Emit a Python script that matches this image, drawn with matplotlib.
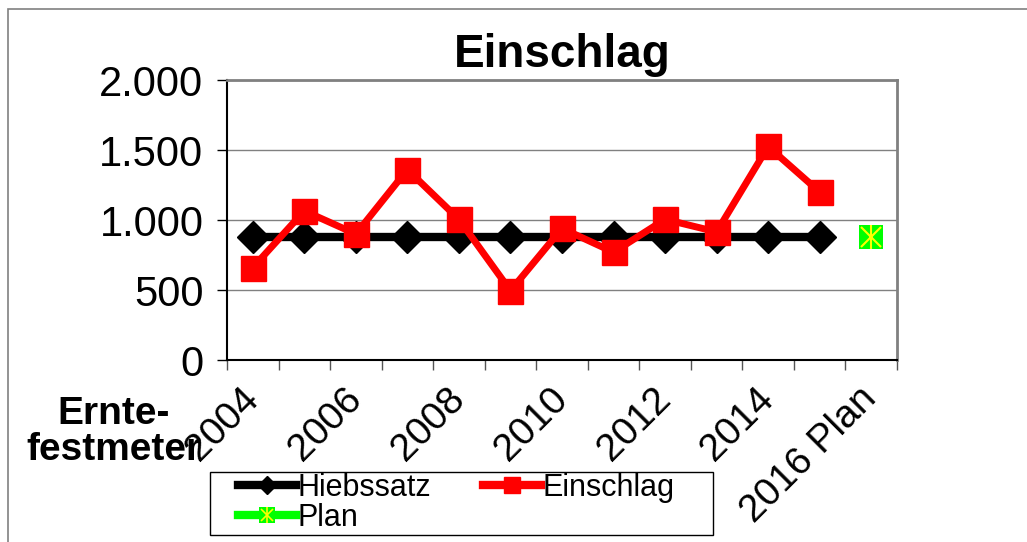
import matplotlib.pyplot as plt
from matplotlib.patches import Rectangle
import numpy as np

plt.rcParams['font.family'] = ['Liberation Sans', 'DejaVu Sans']

# Data
categories = ['2004', '2005', '2006', '2007', '2008', '2009', '2010',
              '2011', '2012', '2013', '2014', '2015', '2016 Plan']
hiebssatz = [880, 880, 880, 880, 880, 880, 880, 880, 880, 880, 880, 880]
einschlag = [660, 1065, 900, 1360, 1005, 495, 940, 770, 1005, 915, 1525, 1200]
plan = [880]
y_ticks = [0, 500, 1000, 1500, 2000]
y_labels = ['0', '500', '1.000', '1.500', '2.000']

x = np.arange(len(categories))

fig = plt.figure(figsize=(10.27, 5.42), dpi=100)
ax = fig.add_axes([227 / 1027, 1 - 360 / 542, 670 / 1027, 280 / 542])

# outer chart border (top and left visible)
fig.patches.append(Rectangle((8 / 1027, -0.1), 1.2, 1 - 9 / 542 + 0.1,
                             transform=fig.transFigure, fill=False,
                             edgecolor='#808080', linewidth=1.2))
# legend frame
fig.patches.append(Rectangle((210 / 1027, 1 - 535 / 542), 503 / 1027, 63 / 542,
                             transform=fig.transFigure, fill=True,
                             facecolor='white', edgecolor='black',
                             linewidth=1))

ax.grid(axis='y', color='#808080', linewidth=1)
ax.set_axisbelow(True)

ax.plot(x[:len(hiebssatz)], hiebssatz, color='black', linewidth=6,
        marker='D', markersize=16)
ax.plot(x[:len(einschlag)], einschlag, color='#FF0000', linewidth=5,
        marker='s', markersize=18)
px = x[len(categories) - len(plan):]
ax.plot(px, plan, color='#00FF00', linestyle='none', marker='s',
        markersize=17, markeredgewidth=0)
ax.plot(px, plan, color='#FFFF00', linestyle='none', marker='x',
        markersize=15, markeredgewidth=1.5)
ax.plot(px, plan, color='#FFFF00', linestyle='none', marker='|',
        markersize=17, markeredgewidth=1.5)

# legend handles (smaller markers than in the plot)
h1, = ax.plot([], [], color='black', linewidth=6, marker='D', markersize=9)
h2, = ax.plot([], [], color='#FF0000', linewidth=6, marker='s', markersize=11)
h3, = ax.plot([], [], color='#00FF00', linewidth=6, marker='s',
              markersize=11, markeredgewidth=0)
h3b, = ax.plot([], [], color='#FFFF00', linestyle='none', marker='x',
               markersize=9, markeredgewidth=1.2)
h3c, = ax.plot([], [], color='#FFFF00', linestyle='none', marker='|',
               markersize=11, markeredgewidth=1.2)

ax.set_xlim(-0.5, len(categories) - 0.5)
ax.set_ylim(0, 2000)
ax.set_yticks(y_ticks)
ax.set_yticklabels(y_labels, fontsize=30)
ax.tick_params(axis='y', length=7, width=1, direction='out', pad=10,
               color='black')

ax.set_xticks(x[::2])
ax.set_xticklabels(categories[::2], fontsize=28, rotation=45,
                   ha='right', va='center', rotation_mode='anchor')
ax.set_xticks(np.arange(len(categories) + 1) - 0.5, minor=True)
ax.tick_params(axis='x', which='major', length=0, pad=24)
ax.tick_params(axis='x', which='minor', length=7, width=1, color='#555555')

for s in ['top', 'right']:
    ax.spines[s].set_color('#808080')
    ax.spines[s].set_linewidth(2)
ax.spines['left'].set_color('black')
ax.spines['bottom'].set_color('black')
ax.spines['left'].set_linewidth(1.5)
ax.spines['bottom'].set_linewidth(1.5)

fig.text(562 / 1027, 1 - 55 / 542, 'Einschlag', fontsize=33,
         fontweight='bold', ha='center', va='center')
fig.text(114 / 1027, 1 - 432 / 542, 'Ernte-\nfestmeter', fontsize=28,
         fontweight='bold', ha='center', va='center', linespacing=1.0)

# column-first fill: Hiebssatz, Plan | Einschlag
leg = fig.legend([h1, (h3, h3b, h3c), h2], ['Hiebssatz', 'Plan', 'Einschlag'],
                 ncol=2, loc='upper left',
                 bbox_to_anchor=(238 / 1027, 1 - 473 / 542),
                 fontsize=22, frameon=False,
                 handlelength=1.9, handletextpad=0.05,
                 borderpad=0.0, labelspacing=0.0, columnspacing=1.7,
                 borderaxespad=0)

fig.savefig('out.png', dpi=100)
